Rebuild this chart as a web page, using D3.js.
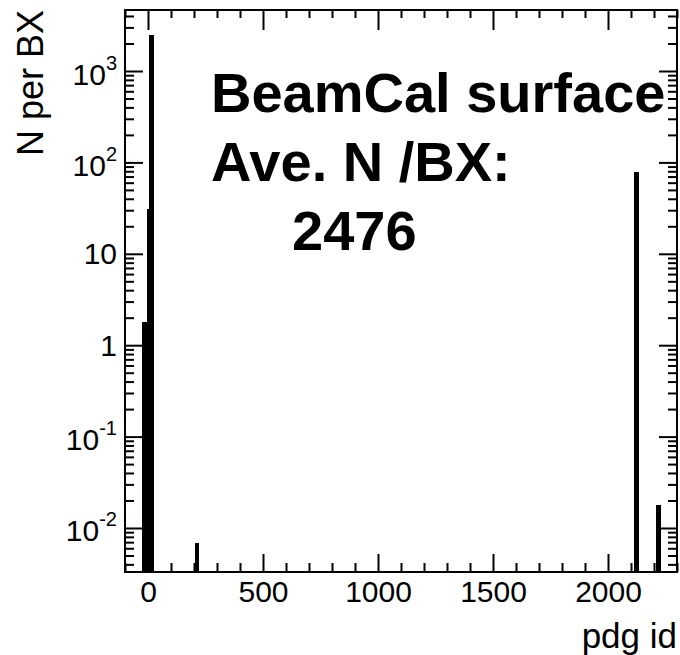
<!DOCTYPE html>
<html>
<head>
<meta charset="utf-8">
<script src="https://cdn.jsdelivr.net/npm/d3@7"></script>
<style>
  body { margin: 0; background: white; }
  svg { display: block; }
  text { font-family: "Liberation Sans", Arial, Helvetica, sans-serif; fill: black; }
</style>
</head>
<body>
<script>
// histogram spikes (pdg id bin edges, N per bunch crossing)
const pdgLow  = [-26, -4.3, 2.6, 205, 2114, 2210];
const pdgHigh = [-4.3, 2.6, 24.3, 223, 2136, 2231];
const nPerBX  = [1.8, 31, 2480, 0.0068, 78, 0.018];

const xMajorTicks = [0, 500, 1000, 1500, 2000];
const xTickLabels = ['0', '500', '1000', '1500', '2000'];
const yMajorTicks = [0.01, 0.1, 1, 10, 100, 1000];
const yTickLabels = [['10', '-2'], ['10', '-1'], ['1', ''], ['10', ''], ['10', '2'], ['10', '3']];

const titleLines = ['BeamCal surface', 'Ave. N /BX:', '2476'];

const margin = {top: 10, right: 3, bottom: 83, left: 125},
      width = 552,
      height = 562;

const xScale = d3.scaleLinear()
                .domain([-100, 2300])
                .range([0, width]);

const yScale = d3.scaleLog()
                .domain([0.0033, 4650])
                .range([height, 0]);

// minor ticks: every 100 in x, 2..9 per decade in y
const xMinorTicks = d3.range(-100, 2301, 100).filter(v => v % 500 !== 0);
const yMinorTicks = [];
[-3, -2, -1, 0, 1, 2, 3].forEach(p => {
  for (let m = 2; m <= 9; m++) {
    const v = m * Math.pow(10, p);
    if (v > yScale.domain()[0] && v < yScale.domain()[1]) yMinorTicks.push(v);
  }
});

const svg = d3.select('body')
              .append('svg')
              .attr('width', 680)
              .attr('height', 655)
              .append('g')
              .attr('transform', `translate(${margin.left}, ${margin.top})`);

// bars
svg.selectAll('rect.bar')
   .data(nPerBX)
   .enter()
     .append('rect')
     .attr('class', 'bar')
     .attr('fill', 'black')
     .attr('shape-rendering', 'crispEdges')
     .attr('x', (d, i) => xScale(pdgLow[i]))
     .attr('width', (d, i) => xScale(pdgHigh[i]) - xScale(pdgLow[i]))
     .attr('y', (d) => yScale(d))
     .attr('height', (d) => height - yScale(d));

// ticks, all pointing inwards like ROOT
function tickAxis(axis, transform) {
  const g = svg.append('g')
               .attr('transform', transform)
               .call(axis);
  g.select('.domain').remove();
  g.selectAll('.tick line').attr('stroke', 'black').attr('stroke-width', 2);
  return g;
}

const xBottom = tickAxis(d3.axisBottom(xScale).tickValues(xMajorTicks).tickSize(-18).tickPadding(26)
                  .tickFormat((d, i) => xTickLabels[i]), `translate(0, ${height})`);
xBottom.selectAll('text').style('font-size', '30px').attr('dy', 0).attr('y', 30);
tickAxis(d3.axisBottom(xScale).tickValues(xMinorTicks).tickSize(-9).tickFormat(''), `translate(0, ${height})`);
tickAxis(d3.axisTop(xScale).tickValues(xMajorTicks).tickSize(-20).tickFormat(''), 'translate(0, 0)');
tickAxis(d3.axisTop(xScale).tickValues(xMinorTicks).tickSize(-8).tickFormat(''), 'translate(0, 0)');

const yLeft = tickAxis(d3.axisLeft(yScale).tickValues(yMajorTicks).tickSize(-18).tickPadding(8)
                .tickFormat(''), 'translate(0, 0)');
tickAxis(d3.axisLeft(yScale).tickValues(yMinorTicks).tickSize(-9).tickFormat(''), 'translate(0, 0)');
tickAxis(d3.axisRight(yScale).tickValues(yMajorTicks).tickSize(-18).tickFormat(''), `translate(${width}, 0)`);
tickAxis(d3.axisRight(yScale).tickValues(yMinorTicks).tickSize(-9).tickFormat(''), `translate(${width}, 0)`);

// y labels with superscripts
yLeft.selectAll('.tick text').remove();
yLeft.selectAll('.tick')
     .append('text')
     .attr('x', -8)
     .attr('y', (d, i) => yTickLabels[i][1] ? 13 : 10)
     .style('text-anchor', 'end')
     .style('font-size', '30px')
     .each(function(d, i) {
       const t = d3.select(this);
       t.append('tspan').text(yTickLabels[i][0]);
       if (yTickLabels[i][1]) {
         t.append('tspan')
          .attr('dy', -15)
          .style('font-size', '20px')
          .text(yTickLabels[i][1]);
       }
     });

// frame
svg.append('rect')
   .attr('width', width)
   .attr('height', height)
   .attr('fill', 'none')
   .attr('stroke', 'black')
   .attr('stroke-width', 2);

// axis titles
svg.append('text')
   .attr('x', width)
   .attr('y', height + 76)
   .style('text-anchor', 'end')
   .style('font-size', '35px')
   .text('pdg id');

svg.append('text')
   .attr('transform', `translate(${43 - margin.left}, 0) rotate(-90)`)
   .style('text-anchor', 'end')
   .style('font-size', '36px')
   .text('N per BX');

// label block
svg.selectAll('text.title')
   .data(titleLines)
   .enter()
     .append('text')
     .attr('class', 'title')
     .attr('x', (d, i) => i === 2 ? 292 - margin.left : 211 - margin.left)
     .attr('y', (d, i) => 102 + i * 69)
     .style('font-size', '56px')
     .style('font-weight', 'bold')
     .text((d) => d);
</script>
</body>
</html>
